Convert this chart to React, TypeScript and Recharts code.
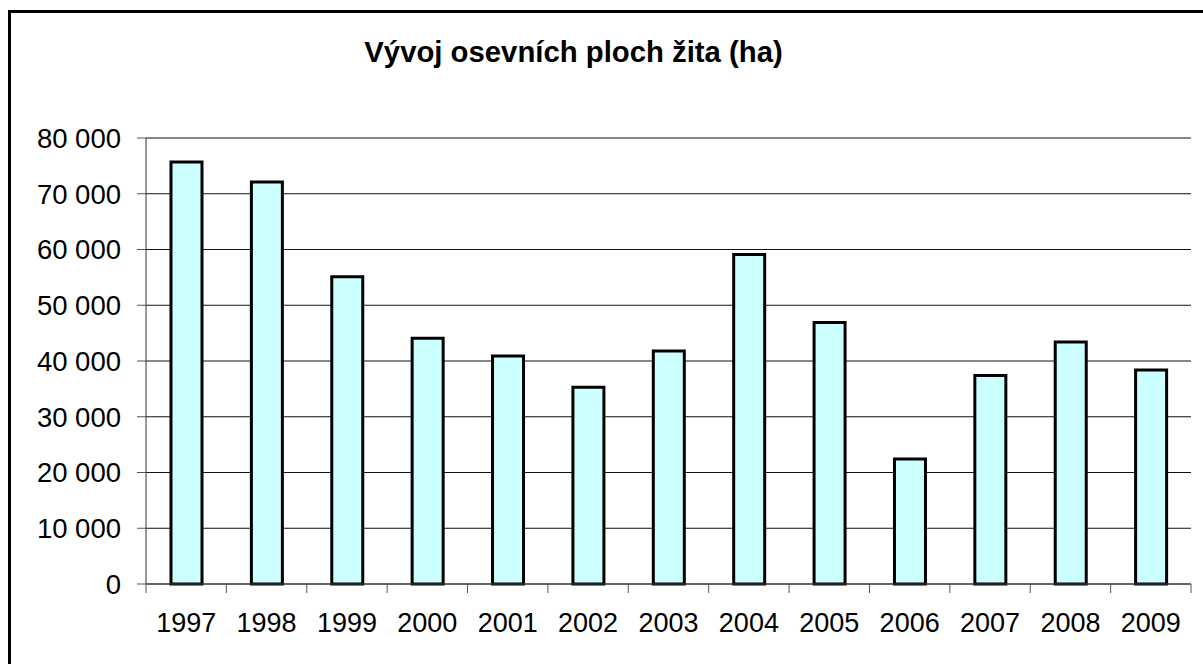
import { BarChart, Bar, XAxis, YAxis, CartesianGrid } from "recharts";

const years = ["1997", "1998", "1999", "2000", "2001", "2002", "2003", "2004", "2005", "2006", "2007", "2008", "2009"];
const areaHa = [75700, 72100, 55100, 44100, 40900, 35300, 41800, 59100, 46900, 22400, 37400, 43400, 38400];
const yTicks = [0, 10000, 20000, 30000, 40000, 50000, 60000, 70000, 80000];

const chartData = years.map((year, i) => ({ year, area: areaHa[i] }));

const FONT = '"Liberation Sans", Arial, Helvetica, sans-serif';
const TICK_SIZE = 9;
const TICK_MARGIN = 20;

// thousands with a space, e.g. 80 000
const fmt = (v: number) => String(v).replace(/\B(?=(\d{3})+(?!\d))/g, " ");

// category label in the middle, tick mark on the band boundary (Excel style)
function YearTick(props: any) {
    const { x, y, payload, index } = props;
    const half = payload && payload.offset ? payload.offset : 40;
    const axisY = y - TICK_SIZE - TICK_MARGIN;
    const last = index === years.length - 1;
    return (
        <g>
            <line x1={x - half} x2={x - half} y1={axisY} y2={axisY + TICK_SIZE} stroke="#555" />
            {last && <line x1={x + half} x2={x + half} y1={axisY} y2={axisY + TICK_SIZE} stroke="#555" />}
            <text x={x} y={y} dy="0.71em" textAnchor="middle" fill="#000" fontSize={27} fontFamily={FONT}>
                {payload.value}
            </text>
        </g>
    );
}

export default function App() {
    return (
        <div style={{ position: "relative", width: 1203, height: 664, overflow: "hidden", background: "#fff", fontFamily: FONT }}>
            <style>{`body{margin:0;overflow:hidden}`}</style>
            <div
                style={{
                    position: "absolute",
                    left: 8,
                    top: 10,
                    width: 1300,
                    height: 800,
                    borderLeft: "3px solid #000",
                    borderTop: "3px solid #000",
                }}
            />
            <div
                style={{
                    position: "absolute",
                    left: 0,
                    top: 37,
                    width: 1147,
                    textAlign: "center",
                    fontSize: 29.3,
                    lineHeight: "30px",
                    fontWeight: "bold",
                    color: "#000",
                }}
            >
                Vývoj osevních ploch žita (ha)
            </div>
            <div style={{ position: "absolute", left: 0, top: 0 }}>
                <BarChart
                    width={1203}
                    height={664}
                    data={chartData}
                    margin={{ top: 138, right: 12, bottom: 0, left: 0 }}
                >
                    <CartesianGrid vertical={false} stroke="#111" />
                    <XAxis
                        dataKey="year"
                        height={80}
                        axisLine={{ stroke: "#444" }}
                        tickLine={false}
                        tickSize={TICK_SIZE}
                        tickMargin={TICK_MARGIN}
                        tick={<YearTick />}
                        interval={0}
                    />
                    <YAxis
                        width={146}
                        domain={[0, 80000]}
                        ticks={yTicks}
                        tickFormatter={fmt}
                        tickSize={TICK_SIZE}
                        tickMargin={16}
                        axisLine={{ stroke: "#333" }}
                        tickLine={{ stroke: "#555" }}
                        tick={{ fontSize: 27.5, fill: "#000", fontFamily: FONT }}
                        interval={0}
                    />
                    <YAxis
                        yAxisId="right"
                        orientation="right"
                        width={0}
                        domain={[0, 80000]}
                        tick={false}
                        tickLine={false}
                        axisLine={{ stroke: "#777" }}
                    />
                    <Bar
                        dataKey="area"
                        fill="#CCFFFF"
                        stroke="#000"
                        strokeWidth={3}
                        barSize={31}
                        isAnimationActive={false}
                    />
                </BarChart>
            </div>
        </div>
    );
}
